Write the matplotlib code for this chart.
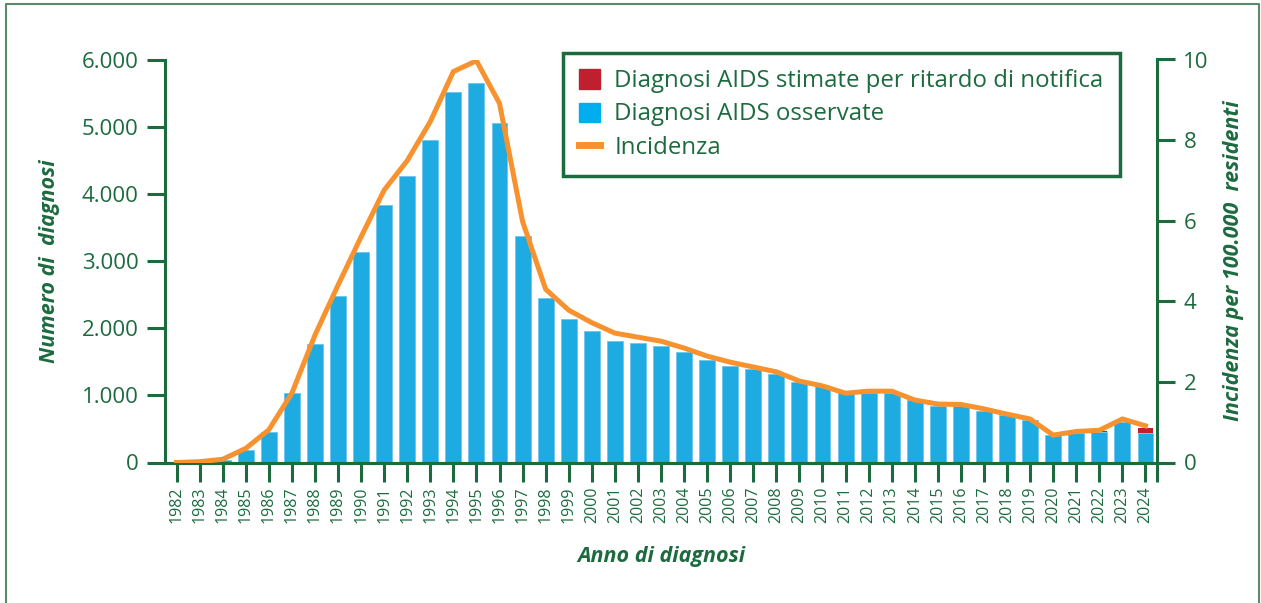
import matplotlib
matplotlib.use("Agg")
import matplotlib.pyplot as plt
from matplotlib.patches import Patch
from matplotlib.lines import Line2D

GREEN = "#1c6b3f"
BLUE = "#1eabe2"
RED = "#c01f2f"
ORANGE = "#f7922f"

years = list(range(1982, 2025))
osservate = [3, 8, 30, 190, 450, 1040, 1765, 2478, 3132, 3827, 4259, 4804, 5509, 5652,
             5052, 3375, 2443, 2135, 1957, 1808, 1778, 1734, 1644, 1525, 1436, 1391,
             1317, 1198, 1138, 1034, 1034, 1034, 930, 841, 841, 771, 702, 632,
             409, 444, 455, 608, 444]
stimate = [0] * 40 + [10, 0, 74]
incidenza = [0.0, 0.02, 0.08, 0.35, 0.81, 1.72, 3.16, 4.40, 5.60, 6.76, 7.49, 8.46, 9.70,
             9.97, 8.91, 5.98, 4.30, 3.78, 3.47, 3.21, 3.11, 3.01, 2.84, 2.64, 2.49,
             2.37, 2.25, 2.02, 1.90, 1.72, 1.77, 1.77, 1.55, 1.45, 1.44, 1.33, 1.20,
             1.08, 0.68, 0.77, 0.80, 1.08, 0.91]

plt.rcParams["font.family"] = ["Open Sans", "DejaVu Sans"]

fig = plt.figure(figsize=(12.61, 6.03), dpi=100)
ax = fig.add_axes([165 / 1261, 1 - 462.5 / 603, (1157 - 165) / 1261, (462.5 - 59.5) / 603])

ax.bar(years, osservate, width=0.69, color=BLUE, edgecolor="#6cc6ec", linewidth=0.6, zorder=2)
ax.bar(years, stimate, width=0.69, bottom=osservate, color=RED, zorder=2)
ax.set_xlim(1981.5, 2024.5)
ax.set_ylim(0, 6000)
ax.set_yticks(range(0, 6001, 1000))
ax.set_yticklabels(["0", "1.000", "2.000", "3.000", "4.000", "5.000", "6.000"])
ax.set_xticks(years)
ax.set_xticklabels([str(y) for y in years], rotation=90, color=GREEN)
ax.set_xticks([2024.5], minor=True)

ax2 = ax.twinx()
ax2.plot(years, incidenza, color=ORANGE, lw=3.6, solid_joinstyle="miter", zorder=3)
ax2.set_ylim(0, 10)
ax2.set_yticks(range(0, 11, 2))

for a in (ax, ax2):
    for s in a.spines.values():
        s.set_color(GREEN)
        s.set_linewidth(2.2)
    a.spines["top"].set_visible(False)
    a.tick_params(which="both", colors=GREEN, width=2.2, length=13, labelsize=16, pad=6)
    a.tick_params(axis="x", which="both", labelsize=11.5, length=13.5, width=2.2, pad=4)
ax.spines["right"].set_visible(False)
ax2.spines["left"].set_visible(False)

ax.set_ylabel("Numero di  diagnosi", fontsize=15.5, fontweight="bold", fontstyle="italic",
              color=GREEN, labelpad=16)
ax2.set_ylabel("Incidenza per 100.000  residenti", fontsize=15.5, fontweight="bold",
               fontstyle="italic", color=GREEN, labelpad=10)
ax.set_xlabel("Anno di diagnosi", fontsize=15.5, fontweight="bold", fontstyle="italic",
              color=GREEN, labelpad=16)

handles = [Patch(color=RED), Patch(color="#00aeef"),
           Line2D([0], [0], color=ORANGE, lw=5)]
labels = ["Diagnosi AIDS stimate per ritardo di notifica", "Diagnosi AIDS osservate", "Incidenza"]
leg = ax2.legend(handles, labels, loc="upper left", bbox_to_anchor=(563 / 1261, 1 - 53 / 603),
                 bbox_transform=fig.transFigure, borderaxespad=0, fancybox=False,
                 fontsize=17.3, handlelength=0.85, handleheight=0.85, handletextpad=0.6,
                 labelspacing=0.38, borderpad=0.68, framealpha=1)
leg.get_frame().set_edgecolor(GREEN)
leg.get_frame().set_linewidth(2.5)
for t in leg.get_texts():
    t.set_color(GREEN)

# outer frame
fig.add_artist(Line2D([6 / 1261, 6 / 1261, 1259 / 1261, 1259 / 1261],
                      [0, 1 - 4 / 603, 1 - 4 / 603, 0], color="#5a8a68", lw=1.5))

fig.savefig("out.png", dpi=100)
